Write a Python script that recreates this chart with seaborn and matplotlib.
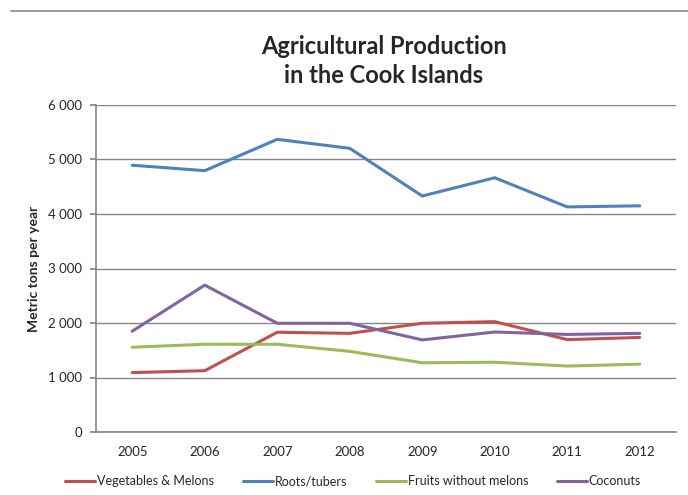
import matplotlib
matplotlib.use("Agg")
import matplotlib.pyplot as plt
from matplotlib.lines import Line2D
import seaborn as sns
import pandas as pd

years = ["2005", "2006", "2007", "2008", "2009", "2010", "2011", "2012"]
vegetables = [1090, 1125, 1830, 1810, 1995, 2025, 1695, 1735]
roots = [4895, 4795, 5370, 5205, 4330, 4665, 4130, 4150]
fruits = [1555, 1610, 1610, 1480, 1270, 1280, 1210, 1245]
coconuts = [1850, 2695, 1995, 1995, 1690, 1835, 1790, 1810]
series_names = ["Vegetables & Melons", "Roots/tubers", "Fruits without melons", "Coconuts"]
colors = ["#C0504D", "#4F81BD", "#9BBB59", "#8064A2"]
yticks = [0, 1000, 2000, 3000, 4000, 5000, 6000]
ytick_labels = ["0", "1 000", "2 000", "3 000", "4 000", "5 000", "6 000"]

sns.set_theme(style="white")
plt.rcParams["font.family"] = ["Lato", "DejaVu Sans"]

df = pd.DataFrame({"Year": years * 4,
                   "Value": vegetables + roots + fruits + coconuts,
                   "Series": sum([[n] * len(years) for n in series_names], [])})
df["x"] = df["Year"].map({y: i for i, y in enumerate(years)})

fig = plt.figure(figsize=(6.88, 4.95), dpi=100)
ax = fig.add_axes([96 / 688, 1 - 432 / 495, 580 / 688, 327 / 495])

sns.lineplot(data=df, x="x", y="Value", hue="Series", hue_order=series_names,
             palette=colors, linewidth=2.2, ax=ax, legend=False, sort=False)

ax.set_xlim(-0.5, 7.5)
ax.set_ylim(0, 6000)
ax.set_xticks(range(len(years)))
ax.set_xticklabels(years, fontsize=9.5)
ax.set_yticks(yticks)
ax.set_yticklabels(ytick_labels, fontsize=9.5)
ax.grid(axis="y", color="#868686", linewidth=1.0)
ax.set_axisbelow(True)
for s in ["top", "right"]:
    ax.spines[s].set_visible(False)
for s in ["left", "bottom"]:
    ax.spines[s].set_color("#868686")
    ax.spines[s].set_linewidth(1.2)
ax.tick_params(axis="y", length=4, color="#868686", left=True, pad=6)
ax.tick_params(axis="x", length=0, pad=10)
ax.set_xlabel("")
ax.set_ylabel("Metric tons per year", fontsize=10, fontweight="bold", labelpad=6)

fig.text(384 / 688, 1 - 61 / 495, "Agricultural Production\nin the Cook Islands",
         ha="center", va="center", fontsize=17, fontweight="bold", linespacing=1.3)

fig.add_artist(Line2D([11 / 688, 1.0], [1 - 11 / 495, 1 - 11 / 495],
                      color="#868686", linewidth=1.2, transform=fig.transFigure))

handles = [Line2D([], [], color=c, linewidth=2.2) for c in colors]
fig.legend(handles, series_names, loc="center", bbox_to_anchor=(353 / 688, 1 - 481 / 495),
           ncol=4, frameon=False, fontsize=9, handlelength=2.4, handletextpad=0.15,
           columnspacing=2.3)

fig.savefig("out.png", dpi=100)
